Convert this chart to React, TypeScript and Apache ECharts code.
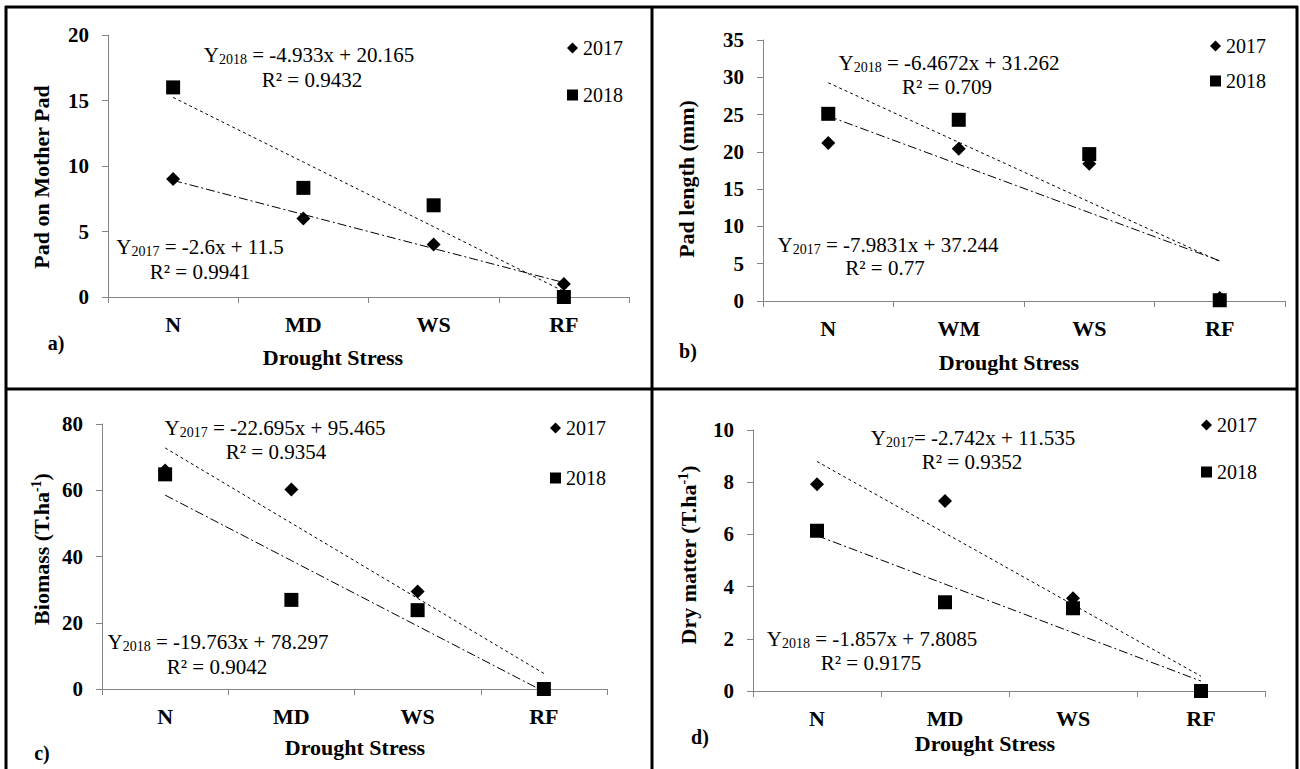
import React, { useEffect, useRef } from "react";
import * as echarts from "echarts";

const SERIF = "Liberation Serif, Times New Roman, serif";

// ---- categories ----
const catsA = ["N", "MD", "WS", "RF"];
const catsB = ["N", "WM", "WS", "RF"];
const catsC = ["N", "MD", "WS", "RF"];
const catsD = ["N", "MD", "WS", "RF"];

// ---- observed values ----
const padA2017 = [9, 6, 4, 1];
const padA2018 = [16, 8.33, 7, 0];
const lenB2017 = [21.2, 20.4, 18.4, 0.4];
const lenB2018 = [25.1, 24.3, 19.7, 0.1];
const bioC2017 = [66, 60.2, 29.4, 0];
const bioC2018 = [64.8, 26.9, 23.8, 0];
const dryD2017 = [7.92, 7.28, 3.55, 0];
const dryD2018 = [6.14, 3.4, 3.17, 0];

// ---- trendline coefficients [slope, intercept] as printed ----
const trendA_dashed = [-4.933, 20.165];
const trendA_dashDot = [-2.6, 11.5];
const trendB_dashed = [-7.9831, 37.244];
const trendB_dashDot = [-6.4672, 31.262];
const trendC_dashed = [-22.695, 95.465];
const trendC_dashDot = [-19.763, 78.297];
const trendD_dashed = [-2.742, 11.535];
const trendD_dashDot = [-1.857, 7.8085];

// ---- y axis ranges ----
const yMax = [20, 35, 80, 10];
const yStep = [5, 5, 20, 2];

// ---- texts ----
const yTitles = ["Pad on Mother Pad", "Pad length (mm)", "Biomass (T.ha", "Dry matter (T.ha"];
const xTitle = "Drought Stress";
const panelLetters = ["a)", "b)", "c)", "d)"];
const legendNames = ["2017", "2018"];
// equations: [year, rest, r2]
const eqTop = [
  ["2018", " = -4.933x + 20.165", "R\u00B2 = 0.9432"],
  ["2018", " = -6.4672x + 31.262", "R\u00B2 = 0.709"],
  ["2017", " = -22.695x + 95.465", "R\u00B2 = 0.9354"],
  ["2017", "= -2.742x + 11.535", "R\u00B2 = 0.9352"],
];
const eqBottom = [
  ["2017", " = -2.6x + 11.5", "R\u00B2 = 0.9941"],
  ["2017", " = -7.9831x + 37.244", "R\u00B2 = 0.77"],
  ["2018", " = -19.763x + 78.297", "R\u00B2 = 0.9042"],
  ["2018", " = -1.857x + 7.8085", "R\u00B2 = 0.9175"],
];

const trend = (c: number[]) => [1, 2, 3, 4].map((x) => +(c[0] * x + c[1]).toFixed(4));

export default function App() {
  const ref = useRef<HTMLDivElement>(null);
  useEffect(() => {
    if (!ref.current) return;
    const chart = echarts.init(ref.current, null, { renderer: "svg" });

    const panels = [
      { cats: catsA, s17: padA2017, s18: padA2018, dashed: trendA_dashed, dashDot: trendA_dashDot },
      { cats: catsB, s17: lenB2017, s18: lenB2018, dashed: trendB_dashed, dashDot: trendB_dashDot },
      { cats: catsC, s17: bioC2017, s18: bioC2018, dashed: trendC_dashed, dashDot: trendC_dashDot },
      { cats: catsD, s17: dryD2017, s18: dryD2018, dashed: trendD_dashed, dashDot: trendD_dashDot },
    ];

    const grids = [
      { left: 108, top: 35, width: 521, height: 262 },
      { left: 763, top: 40, width: 522, height: 261 },
      { left: 102, top: 424, width: 505, height: 265 },
      { left: 753, top: 430, width: 512, height: 261 },
    ];

    const axisColor = "#858585";

    const xAxis = panels.map((p, i) => ({
      type: "category",
      gridIndex: i,
      data: p.cats,
      boundaryGap: true,
      axisLine: { show: true, lineStyle: { color: axisColor, width: 1 } },
      axisTick: { show: true, length: 6, alignWithLabel: false, interval: 0, lineStyle: { color: axisColor } },
      axisLabel: { fontFamily: SERIF, fontWeight: "bold", fontSize: 22, color: "#000", margin: 16, interval: 0 },
      splitLine: { show: false },
    }));

    const yAxis = panels.map((p, i) => ({
      type: "value",
      gridIndex: i,
      min: 0,
      max: yMax[i],
      interval: yStep[i],
      axisLine: { show: true, lineStyle: { color: axisColor, width: 1 } },
      axisTick: { show: true, length: 6, lineStyle: { color: axisColor } },
      axisLabel: { fontFamily: SERIF, fontWeight: "bold", fontSize: 21, color: "#000", margin: 19 },
      splitLine: { show: false },
    }));

    const series: any[] = [];
    panels.forEach((p, i) => {
      series.push({
        name: "2017",
        type: "scatter",
        xAxisIndex: i,
        yAxisIndex: i,
        symbol: "diamond",
        symbolSize: 14,
        itemStyle: { color: "#000", opacity: 1 },
        data: p.cats.map((c, k) => [c, p.s17[k]]),
        z: 3,
      });
      series.push({
        name: "2018",
        type: "scatter",
        xAxisIndex: i,
        yAxisIndex: i,
        symbol: "rect",
        symbolSize: 14,
        itemStyle: { color: "#000", opacity: 1 },
        data: p.cats.map((c, k) => [c, p.s18[k]]),
        z: 3,
      });
      series.push({
        name: "trend-dashed-" + i,
        type: "line",
        xAxisIndex: i,
        yAxisIndex: i,
        symbol: "none",
        lineStyle: { color: "#000", width: 1, type: [3, 3] },
        data: trend(p.dashed),
        z: 4,
        silent: true,
      });
      series.push({
        name: "trend-dashdot-" + i,
        type: "line",
        xAxisIndex: i,
        yAxisIndex: i,
        symbol: "none",
        lineStyle: { color: "#000", width: 1, type: [9, 3, 2, 3] },
        data: trend(p.dashDot),
        z: 4,
        silent: true,
      });
    });

    const legendPos = [
      { left: 567, top: 38, itemGap: 27 },
      { left: 1210, top: 36, itemGap: 15 },
      { left: 550, top: 418, itemGap: 30 },
      { left: 1201, top: 415, itemGap: 27 },
    ];
    const legend = legendPos.map((lp) => ({
      data: [
        { name: legendNames[0], icon: "diamond", itemStyle: { color: "#000", opacity: 1 } },
        { name: legendNames[1], icon: "rect", itemStyle: { color: "#000", opacity: 1 } },
      ],
      orient: "vertical",
      left: lp.left,
      top: lp.top,
      itemGap: lp.itemGap,
      itemWidth: 11,
      itemHeight: 11,
      padding: 0,
      selectedMode: false,
      textStyle: { fontFamily: SERIF, fontSize: 20, color: "#000" },
    }));

    const plain = (x: number, y: number, text: string, size: number, bold = false, rotation = 0) => ({
      type: "text",
      x,
      y,
      rotation,
      style: {
        text,
        fontFamily: SERIF,
        fontSize: size,
        fontWeight: bold ? "bold" : "normal",
        fill: "#000",
        align: "center",
        verticalAlign: "middle",
        textAlign: "center",
        textVerticalAlign: "middle",
      },
    });

    const eqLine = (x: number, y: number, year: string, rest: string) => ({
      type: "text",
      x,
      y,
      style: {
        text: `{m|Y}{s|${year}}{m|${rest}}`,
        align: "center",
        verticalAlign: "middle",
        textAlign: "center",
        textVerticalAlign: "middle",
        rich: {
          m: { fontFamily: SERIF, fontSize: 21, fill: "#000", lineHeight: 22, verticalAlign: "top" },
          s: { fontFamily: SERIF, fontSize: 14, fill: "#000", lineHeight: 14, padding: [10, 0, 0, 0], verticalAlign: "bottom" },
        },
      },
    });

    const supTitle = (x: number, y: number, main: string) => ({
      type: "text",
      x,
      y,
      rotation: Math.PI / 2,
      style: {
        text: `{b|${main}}{p|-1}{b|)}`,
        align: "center",
        verticalAlign: "middle",
        textAlign: "center",
        textVerticalAlign: "middle",
        rich: {
          b: { fontFamily: SERIF, fontSize: 22, fontWeight: "bold", fill: "#000", lineHeight: 22, verticalAlign: "bottom" },
          p: { fontFamily: SERIF, fontSize: 14, fontWeight: "bold", fill: "#000", lineHeight: 14, padding: [0, 0, 9, 0], verticalAlign: "bottom" },
        },
      },
    });

    // positions of texts: [line1 x, line1 y, line2 x, line2 y]
    const eqTopPos = [
      [309, 55, 312, 80],
      [949, 63, 947, 87],
      [275, 428, 276, 452],
      [973, 438, 972, 462],
    ];
    const eqBotPos = [
      [200, 247, 200, 272],
      [888, 245, 885, 268],
      [218, 642, 217, 667],
      [872, 639, 871, 663],
    ];
    const xTitlePos = [
      [333, 357],
      [1009, 362],
      [355, 747],
      [985, 743],
    ];
    const letterPos = [
      [56, 343],
      [688, 351],
      [42, 753],
      [700, 737],
    ];
    const yTitlePos = [
      [41, 177],
      [686, 179],
      [41, 549],
      [688, 555],
    ];

    const graphics: any[] = [];
    const frame = { stroke: "#000", lineWidth: 3 };
    graphics.push({ type: "line", shape: { x1: 5, y1: 7, x2: 1298, y2: 7 }, style: frame });
    graphics.push({ type: "line", shape: { x1: 6, y1: 6, x2: 6, y2: 769 }, style: frame });
    graphics.push({ type: "line", shape: { x1: 1297, y1: 6, x2: 1297, y2: 769 }, style: frame });
    graphics.push({ type: "line", shape: { x1: 652, y1: 6, x2: 652, y2: 769 }, style: frame });
    graphics.push({ type: "line", shape: { x1: 6, y1: 389, x2: 1297, y2: 389 }, style: frame });

    for (let i = 0; i < 4; i++) {
      graphics.push(eqLine(eqTopPos[i][0], eqTopPos[i][1], eqTop[i][0], eqTop[i][1]));
      graphics.push(plain(eqTopPos[i][2], eqTopPos[i][3], eqTop[i][2], 21));
      graphics.push(eqLine(eqBotPos[i][0], eqBotPos[i][1], eqBottom[i][0], eqBottom[i][1]));
      graphics.push(plain(eqBotPos[i][2], eqBotPos[i][3], eqBottom[i][2], 21));
      graphics.push(plain(xTitlePos[i][0], xTitlePos[i][1], xTitle, 22, true));
      graphics.push(plain(letterPos[i][0], letterPos[i][1], panelLetters[i], 20, true));
      if (i < 2) {
        graphics.push(plain(yTitlePos[i][0], yTitlePos[i][1], yTitles[i], 22, true, Math.PI / 2));
      } else {
        graphics.push(supTitle(yTitlePos[i][0], yTitlePos[i][1], yTitles[i]));
      }
    }

    chart.setOption({
      animation: false,
      backgroundColor: "#fff",
      grid: grids.map((g) => ({ ...g, containLabel: false })),
      xAxis,
      yAxis,
      legend,
      series,
      graphic: { elements: graphics },
    });

    return () => chart.dispose();
  }, []);

  return (
    <div
      ref={ref}
      style={{ position: "fixed", left: 0, top: 0, width: 1300, height: 769, background: "#fff" }}
    />
  );
}
